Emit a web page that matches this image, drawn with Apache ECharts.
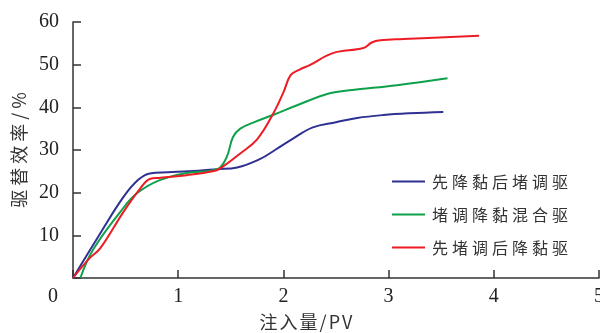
<!DOCTYPE html>
<html><head><meta charset="utf-8">
<script src="https://cdn.jsdelivr.net/npm/echarts@6/dist/echarts.min.js"></script>
<style>html,body{margin:0;padding:0;background:#fff}#c{width:600px;height:333px}</style>
</head><body><div id="c"></div>
<script>
var seriesNames = ['先降黏后堵调驱', '堵调降黏混合驱', '先堵调后降黏驱'];
var seriesColors = ['#2E3192', '#0EA14B', '#ED1C24'];
var blueData = [[0,0],[0.26,10.5],[0.48,19],[0.62,23],[0.73,24.5],[0.9,24.8],[1.1,25],[1.37,25.5],[1.56,25.9],[1.78,27.9],[1.92,30],[2.08,32.5],[2.28,35.3],[2.5,36.5],[2.7,37.5],[2.95,38.2],[3.2,38.6],[3.52,38.9]];
var greenData = [[0.07,0],[0.19,6.6],[0.45,15.5],[0.61,19.9],[0.83,23],[1.08,24.6],[1.37,25.5],[1.46,28.3],[1.52,33],[1.59,35],[1.73,36.6],[1.9,38.2],[2.13,40.5],[2.44,43.3],[2.63,44],[3.08,45.2],[3.56,46.8]];
var redData = [[0,0],[0.16,4.7],[0.26,7],[0.48,15.5],[0.64,21],[0.73,23.2],[0.83,23.5],[1.08,24.1],[1.33,25],[1.4,25.7],[1.59,29.2],[1.75,32.5],[1.9,38.4],[2.0,43.5],[2.07,47.6],[2.15,48.8],[2.25,49.9],[2.47,52.7],[2.76,53.9],[2.84,55.2],[2.92,55.7],[3.14,56],[3.86,56.8]];
var xName = '注入量/PV';
var yName = '驱替效率/%';

var chart = echarts.init(document.getElementById('c'), null, {renderer:'canvas'});
var axisColor = '#333';
var numFont = 'Liberation Serif';
var cjkFont = 'Noto Sans CJK SC';
function spaced(n){ return n.split('').map(function(ch){return '{c|'+ch+'}';}).join(''); }
chart.setOption({
  animation: false,
  backgroundColor: '#fff',
  grid: {left: 73, right: 1, top: 22, bottom: 55, containLabel: false, outerBoundsMode: 'none'},
  legend: {
    orient: 'vertical', left: 392, top: 172, padding: 0,
    icon: 'rect', itemWidth: 33, itemHeight: 2, itemGap: 14,
    data: seriesNames,
    formatter: spaced,
    textStyle: {color: '#333', fontSize: 16, lineHeight: 19, fontFamily: cjkFont,
      rich: {c: {fontSize: 16, padding: [0,2,0,2], color: '#333', fontFamily: cjkFont}}}
  },
  xAxis: {
    type: 'value', min: 0, max: 5, interval: 1,
    name: spaced(xName), nameLocation: 'middle', nameGap: 35,
    nameTextStyle: {fontSize: 18, color: '#333', fontFamily: cjkFont, padding: [0,60,0,0],
      rich: {c: {fontSize: 18, padding: [0,1,0,1], color: '#333', fontFamily: cjkFont}}},
    axisLine: {lineStyle: {color: axisColor, width: 1.5}},
    axisTick: {inside: true, length: 8, lineStyle: {color: axisColor, width: 1.5}},
    axisLabel: {margin: 9, fontSize: 20, color: '#222', fontFamily: numFont,
      formatter: function(v){ return v === 0 ? '{o|0}' : String(v); },
      rich: {o: {fontSize: 20, color: '#222', fontFamily: numFont, padding: [0,40,0,0]}}},
    splitLine: {show: false}
  },
  yAxis: {
    type: 'value', min: 0, max: 60, interval: 10,
    name: spaced(yName), nameLocation: 'middle', nameGap: 45, nameRotate: 90,
    nameTextStyle: {fontSize: 18, color: '#333', fontFamily: cjkFont,
      rich: {c: {fontSize: 18, padding: [0,2,0,2], color: '#333', fontFamily: cjkFont}}},
    axisLine: {show: true, lineStyle: {color: axisColor, width: 1.5}},
    axisTick: {show: true, inside: true, length: 8, lineStyle: {color: axisColor, width: 1.5}},
    axisLabel: {margin: 14, fontSize: 20, color: '#222', fontFamily: numFont,
      formatter: function(v){ return v === 0 ? '' : String(v); }},
    splitLine: {show: false}
  },
  series: [blueData, greenData, redData].map(function(d, i){
    return {name: seriesNames[i], type: 'line', data: d, smooth: 0.4, showSymbol: false,
      lineStyle: {color: seriesColors[i], width: 2}, itemStyle: {color: seriesColors[i]}};
  })
});
</script></body></html>
